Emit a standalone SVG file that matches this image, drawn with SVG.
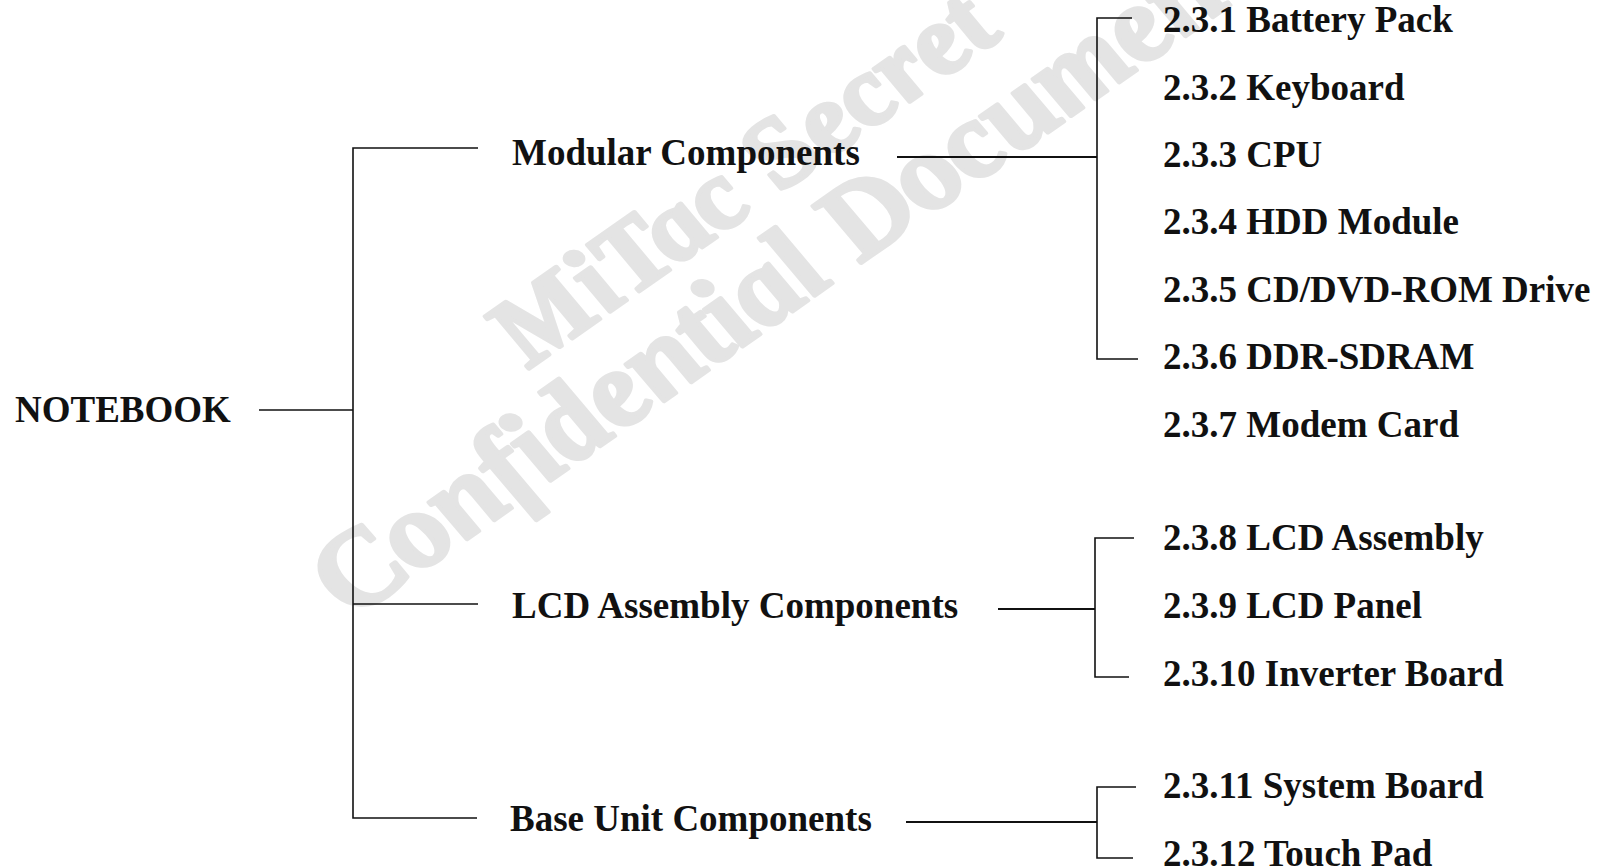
<svg xmlns="http://www.w3.org/2000/svg" width="1601" height="867" viewBox="0 0 1601 867">
<style>
.lbl{font-family:"Liberation Serif","Times New Roman",serif;font-weight:bold;font-size:37px;fill:#111}
.wm{font-family:"Liberation Serif","Times New Roman",serif;font-weight:bold;font-style:italic;fill:#e4e4e4;stroke:#e4e4e4;stroke-width:4;stroke-linejoin:round}
.ln{stroke:#111;stroke-width:1.6;fill:none}
.lnb{stroke:#111;stroke-width:2.2;fill:none}
</style>
<rect width="1601" height="867" fill="#fff"/>
<g id="watermark">
<text class="wm" font-size="104" transform="translate(530,368) rotate(-35) skewX(15)" textLength="580" lengthAdjust="spacingAndGlyphs">MiTac Secret</text>
<text class="wm" font-size="114" transform="translate(356,617) rotate(-35) skewX(15)">Confidential Document</text>
</g>
<g id="connectors">
<path class="ln" d="M259,410H353"/>
<path class="ln" d="M478,148H353V818H477"/>
<path class="ln" d="M353,604H478"/>
<path class="lnb" d="M897,157H1097"/>
<path class="ln" d="M1132,18H1097V359H1138"/>
<path class="lnb" d="M998,609H1095"/>
<path class="ln" d="M1134,538H1095V677H1129"/>
<path class="lnb" d="M906,822H1097"/>
<path class="ln" d="M1136,787H1097V858H1133"/>
</g>
<g id="n-notebook"><text class="lbl" x="15" y="422">NOTEBOOK</text></g>
<g id="n-modular"><text class="lbl" x="512" y="165">Modular Components</text></g>
<g id="n-lcd"><text class="lbl" x="512" y="618">LCD Assembly Components</text></g>
<g id="n-base"><text class="lbl" x="510" y="831">Base Unit Components</text></g>
<g id="n-231"><text class="lbl" x="1163" y="32">2.3.1 Battery Pack</text></g>
<g id="n-232"><text class="lbl" x="1163" y="100">2.3.2 Keyboard</text></g>
<g id="n-233"><text class="lbl" x="1163" y="167">2.3.3 CPU</text></g>
<g id="n-234"><text class="lbl" x="1163" y="234">2.3.4 HDD Module</text></g>
<g id="n-235"><text class="lbl" x="1163" y="302">2.3.5 CD/DVD-ROM Drive</text></g>
<g id="n-236"><text class="lbl" x="1163" y="369">2.3.6 DDR-SDRAM</text></g>
<g id="n-237"><text class="lbl" x="1163" y="437">2.3.7 Modem Card</text></g>
<g id="n-238"><text class="lbl" x="1163" y="550">2.3.8 LCD Assembly</text></g>
<g id="n-239"><text class="lbl" x="1163" y="618">2.3.9 LCD Panel</text></g>
<g id="n-2310"><text class="lbl" x="1163" y="686">2.3.10 Inverter Board</text></g>
<g id="n-2311"><text class="lbl" x="1163" y="798">2.3.11 System Board</text></g>
<g id="n-2312"><text class="lbl" x="1163" y="866">2.3.12 Touch Pad</text></g>
</svg>
